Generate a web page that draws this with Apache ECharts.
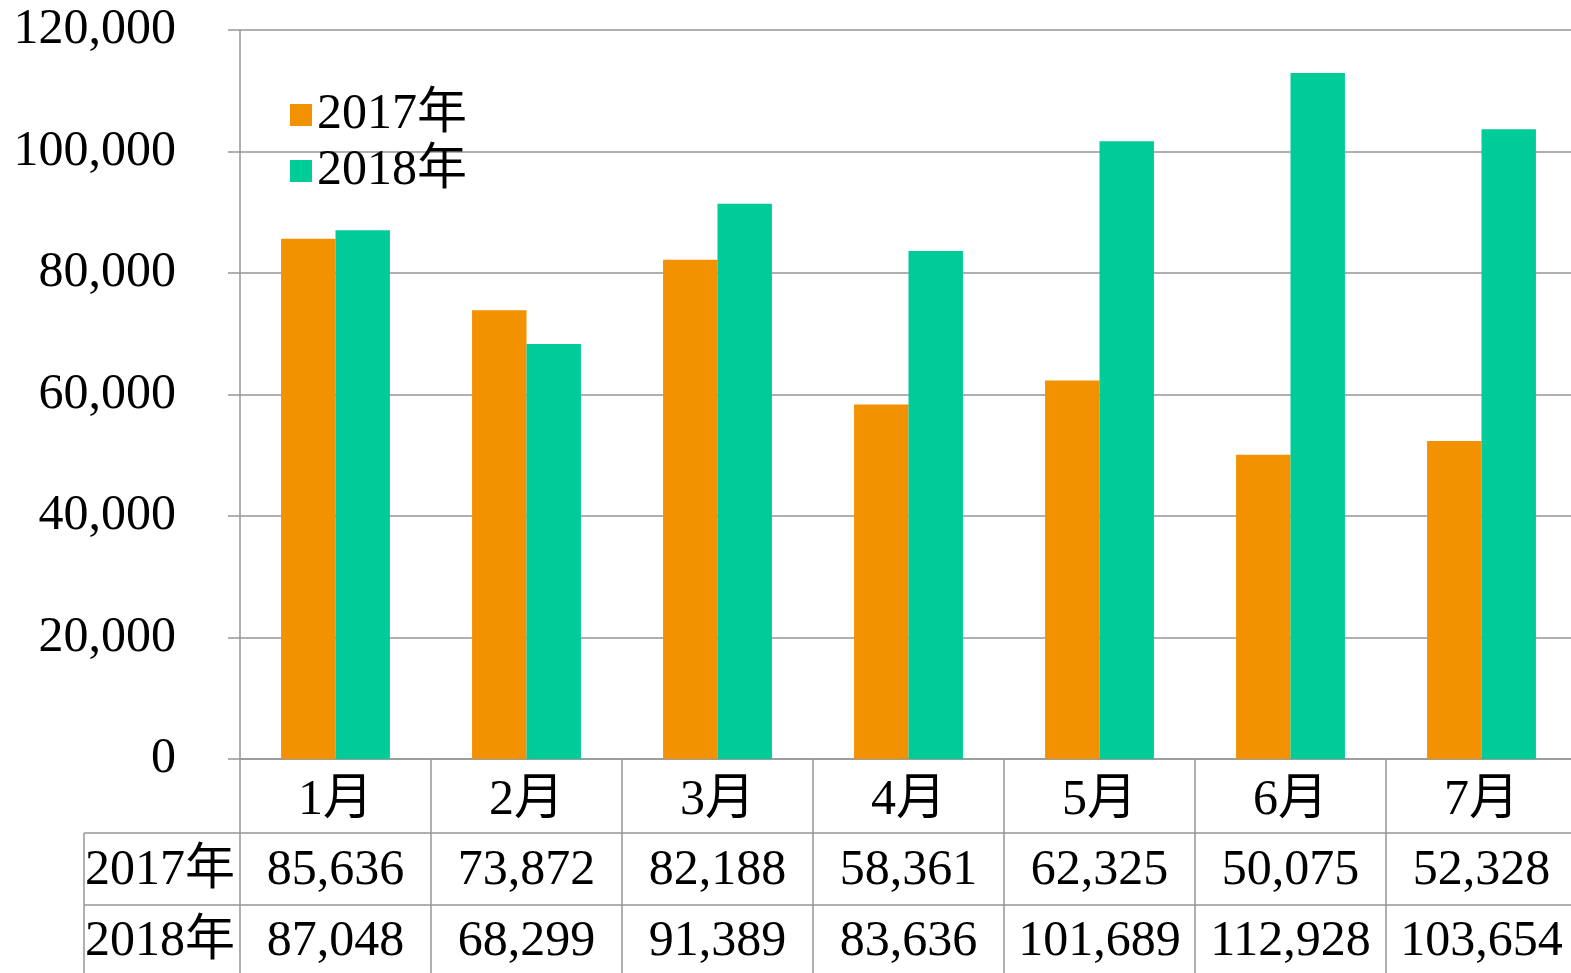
<!DOCTYPE html>
<html>
<head>
<meta charset="utf-8">
<script src="https://cdn.jsdelivr.net/npm/echarts@6/dist/echarts.min.js"></script>
<style>
  html, body { margin: 0; padding: 0; background: #fff; }
  #chart { width: 1571px; height: 973px; }
</style>
</head>
<body>
<div id="chart"></div>
<script>
const months = ["1月", "2月", "3月", "4月", "5月", "6月", "7月"]
const seriesNames = ["2017年", "2018年"]
const sales2017 = [85636, 73872, 82188, 58361, 62325, 50075, 52328]
const sales2018 = [87048, 68299, 91389, 83636, 101689, 112928, 103654]

const FONT = "'Liberation Serif', 'Noto Sans CJK JP', serif"
const LINE = "#969696"
const fmt = (v) => v.toLocaleString("en-US")

const chart = echarts.init(document.getElementById("chart"))

// one bottom axis per table row, stacked with offset
const tableRow = (names, offset, margin, tickLen) => ({
  type: "category",
  position: "bottom",
  offset: offset,
  data: names,
  axisLine: { show: true, lineStyle: { color: LINE, width: 1.5 } },
  axisTick: { show: true, alignWithLabel: false, interval: 0, length: tickLen, lineStyle: { color: LINE, width: 1.5 } },
  axisLabel: {
    interval: 0,
    margin: margin,
    verticalAlign: "middle",
    fontSize: 50,
    color: "#000",
    fontFamily: FONT
  }
})

const rowHeader = (text, y) => ({
  type: "text",
  x: 160,
  y: y,
  style: {
    text: text,
    fontSize: 50,
    fontFamily: FONT,
    fill: "#000",
    align: "center",
    verticalAlign: "middle"
  }
})

const options = {
  animation: false,
  textStyle: { fontFamily: FONT },
  grid: { left: 240, top: 30, width: 1337, height: 729, outerBoundsMode: "none" },
  legend: {
    data: seriesNames,
    orient: "vertical",
    left: 285,
    top: 85,
    icon: "rect",
    itemWidth: 22,
    itemHeight: 22,
    itemGap: 6,
    itemTextGap: 11,
    textStyle: { fontSize: 50, color: "#000", fontFamily: FONT }
  },
  xAxis: [
    {
      type: "category",
      position: "bottom",
      data: months,
      axisLine: { show: true, lineStyle: { color: LINE, width: 1.5 } },
      axisTick: { show: true, alignWithLabel: false, interval: 0, length: 74, lineStyle: { color: LINE, width: 1.5 } },
      axisLabel: {
        interval: 0,
        margin: 42,
        verticalAlign: "middle",
        fontSize: 50,
        color: "#000",
        fontFamily: FONT
      }
    },
    tableRow(sales2017.map(fmt), 74, 38, 72),
    tableRow(sales2018.map(fmt), 146, 37, 80)
  ],
  yAxis: {
    type: "value",
    min: 0,
    max: 120000,
    interval: 20000,
    axisLine: { show: true, lineStyle: { color: LINE, width: 1.5 } },
    axisTick: { show: true, length: 12, lineStyle: { color: LINE, width: 1.5 } },
    splitLine: { show: true, lineStyle: { color: LINE, width: 1.5 } },
    axisLabel: {
      margin: 64,
      fontSize: 50,
      color: "#000",
      fontFamily: FONT,
      formatter: (v) => fmt(v)
    }
  },
  // row-header column of the data table
  graphic: [
    { type: "line", shape: { x1: 84, y1: 833, x2: 240, y2: 833 }, style: { stroke: LINE, lineWidth: 1.5 } },
    { type: "line", shape: { x1: 84, y1: 905, x2: 240, y2: 905 }, style: { stroke: LINE, lineWidth: 1.5 } },
    { type: "line", shape: { x1: 84, y1: 833, x2: 84, y2: 973 }, style: { stroke: LINE, lineWidth: 1.5 } },
    rowHeader(seriesNames[0], 871),
    rowHeader(seriesNames[1], 942)
  ],
  series: [
    {
      name: seriesNames[0],
      type: "bar",
      xAxisIndex: 0,
      data: sales2017,
      barGap: "0%",
      barCategoryGap: "43%",
      itemStyle: { color: "#F39200" }
    },
    {
      name: seriesNames[1],
      type: "bar",
      xAxisIndex: 0,
      data: sales2018,
      barGap: "0%",
      barCategoryGap: "43%",
      itemStyle: { color: "#00CC99" }
    }
  ]
}

chart.setOption(options)
</script>
</body>
</html>
